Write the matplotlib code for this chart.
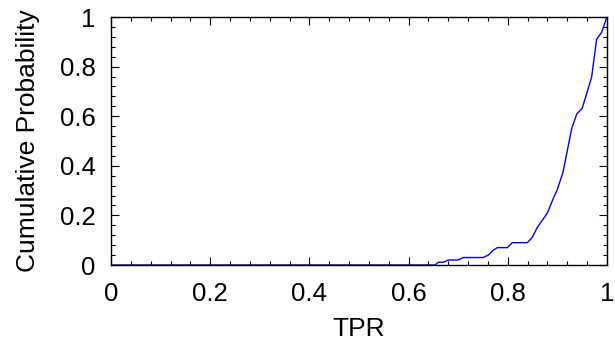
import matplotlib
matplotlib.use("Agg")
import matplotlib.pyplot as plt
from matplotlib.ticker import MultipleLocator, FormatStrFormatter

# CDF of true positive rate
tpr = [0.0, 0.653, 0.660, 0.670, 0.680, 0.700, 0.710, 0.750, 0.761, 0.771,
       0.779, 0.799, 0.809, 0.839, 0.849, 0.859, 0.880, 0.892, 0.899, 0.911,
       0.929, 0.939, 0.950, 0.969, 0.979, 0.989, 0.999, 1.0]
cum_prob = [0.0, 0.0, 0.011, 0.011, 0.02, 0.02, 0.03, 0.03, 0.04, 0.06,
            0.07, 0.07, 0.09, 0.09, 0.11, 0.15, 0.21, 0.27, 0.30, 0.372,
            0.551, 0.609, 0.632, 0.757, 0.910, 0.938, 0.995, 1.0]

plt.rcParams['font.family'] = ['Liberation Sans', 'DejaVu Sans']

fig = plt.figure(figsize=(6.15, 3.43), dpi=100)
ax = fig.add_axes([0.1805, 0.2274, 0.8065, 0.723])

ax.plot(tpr, cum_prob, color='#0000ff', linewidth=1.0)

ax.set_xlim(0, 1)
ax.set_ylim(0, 1)
ax.set_xlabel("TPR", fontsize=19, labelpad=8)
ax.set_ylabel("Cumulative Probability", fontsize=19, labelpad=14)

ax.xaxis.set_major_locator(MultipleLocator(0.2))
ax.xaxis.set_minor_locator(MultipleLocator(0.04))
ax.yaxis.set_major_locator(MultipleLocator(0.2))
ax.yaxis.set_minor_locator(MultipleLocator(0.04))
ax.xaxis.set_major_formatter(FormatStrFormatter('%g'))
ax.yaxis.set_major_formatter(FormatStrFormatter('%g'))

ax.tick_params(which='both', direction='in', top=True, right=True,
               labelsize=18.5, width=0.8, color='black')
ax.tick_params(which='major', length=6)
ax.tick_params(axis='y', which='major', pad=11)
ax.tick_params(axis='x', which='major', pad=12)
ax.tick_params(which='minor', length=3)

for s in ax.spines.values():
    s.set_linewidth(1.0)

fig.savefig("out.png", dpi=100)
